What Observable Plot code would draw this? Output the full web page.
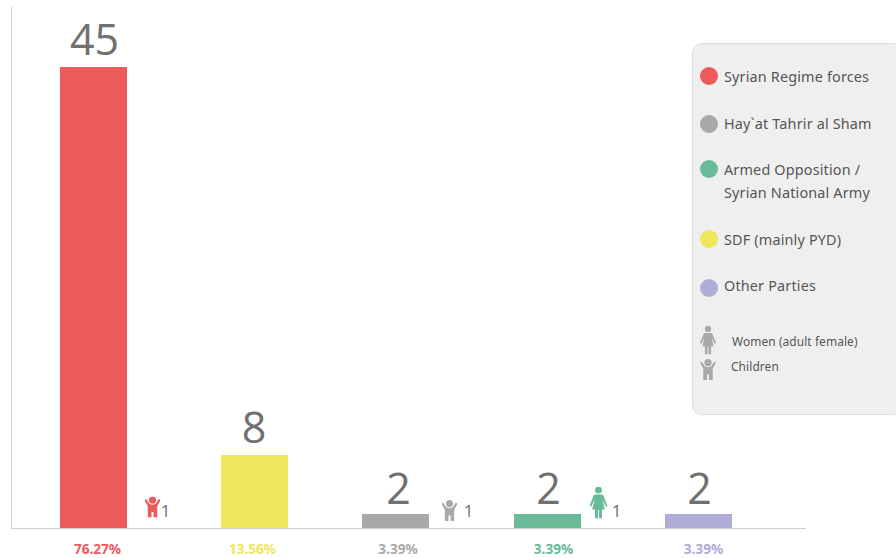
<!DOCTYPE html>
<html><head><meta charset="utf-8">
<script src="https://cdn.jsdelivr.net/npm/d3@7"></script>
<script src="https://cdn.jsdelivr.net/npm/@observablehq/plot@0.6"></script>
<style>
html,body{margin:0;padding:0;background:#fff;overflow:hidden}
#wrap{position:relative;width:896px;height:558px;font-family:"Noto Sans",sans-serif}
#wrap svg.plot,#wrap>svg{display:block;position:absolute;left:0;top:0}
#legend{position:absolute;left:692px;top:43px;width:210px;height:372px;background:#efefef;border:1px dotted #ccc;border-radius:10px;box-sizing:border-box}
.sw{position:absolute;left:7px;width:18px;height:18px;border-radius:50%}
.lb{position:absolute;left:31px;color:#555;font-size:14.4px;line-height:23.5px;white-space:nowrap;letter-spacing:.17px}
.sm{position:absolute;color:#555;font-size:11.9px;line-height:16px;white-space:nowrap;letter-spacing:.1px}
.ic{position:absolute}
</style></head><body><div id="wrap"></div>
<script>
const categories = ["Syrian Regime forces","SDF (mainly PYD)","Hay`at Tahrir al Sham","Armed Opposition / Syrian National Army","Other Parties"];
const counts = [45,8,2,2,2];
const percents = ["76.27%","13.56%","3.39%","3.39%","3.39%"];
const colors = ["#ed5a5c","#efe65c","#a9a9a9","#68bb96","#b0acd8"];
const iconSeries = [0,2,3];
const iconCounts = [1,1,1];
const iconKinds = ["child","child","woman"];
const legendOrder = [0,2,3,1,4];

const childSvg = c => `<svg xmlns="http://www.w3.org/2000/svg" viewBox="0 0 16 21"><circle cx="8" cy="3.6" r="3.6" fill="${c}"/><path fill="${c}" d="M0 3.8 1.700 2.500 4.400 6.800C5.200 7.800 6.400 8.200 8 8.200s2.800-.4 3.600-1.400l2.700-4.300L16 3.800l-3.300 6V14.500V21H9V15.500H7V21H3.300V14.500V9.800Z"/></svg>`;
const womanSvg = c => `<svg xmlns="http://www.w3.org/2000/svg" viewBox="0 0 18 32"><circle cx="9" cy="3.6" r="3.5" fill="${c}"/><path fill="${c}" d="M6 8h6c1 0 1.700.5 2.100 1.500L18 19.500l-1.700.7-3.300-7.200 2.300 10H12.500V32H9.500V23.500h-1V32H5.500V23H2.700L5 13 1.700 20.200 0 19.500 3.900 9.500C4.300 8.500 5 8 6 8Z"/></svg>`;
const uri = s => "data:image/svg+xml;utf8," + encodeURIComponent(s);

const rows = categories.map((name,i)=>({name,slot:i,count:counts[i],pct:percents[i],color:colors[i]}));
const iconRows = iconSeries.map((s,i)=>({slot:s,n:iconCounts[i],kind:iconKinds[i],color:colors[s]}));

// layout nudges (px), relative to each slot's bar centre
const pctDx = [4,-2,2.5,6,5];
const numDx = [1,-0.5,3,1,1];
const numDy = [-13,-13,-11,-11,-11];
const iconDx = [59,54,51];
const iconDy = [-21.5,-18,-26];
const oneDx = [72,73,69];

const chart = Plot.plot({
  width:896,height:558,margin:0,
  x:{type:"linear",domain:[-1,0,1,2,3,4,5],range:[11,93,254,395,547,698,806],axis:null},
  y:{type:"linear",domain:[0,2,8,45,50],range:[528,514,455,67,7],axis:null},
  marks:[
    Plot.ruleX([-1],{y1:0,y2:50,stroke:"#cfcfcf",strokeWidth:1}),
    Plot.ruleX(rows,{x:"slot",y1:0,y2:"count",stroke:"color",strokeWidth:67}),
    Plot.ruleY([0],{x1:-1,x2:5,stroke:"#cfcfcf",strokeWidth:1}),
    ...rows.map((d,i)=>Plot.text([d],{x:"slot",y:"count",text:d=>String(d.count),dx:numDx[i],dy:numDy[i],lineAnchor:"bottom",fontSize:43,fontWeight:400,fontFamily:"Open Sans",fill:"#707070"})),
    ...rows.map((d,i)=>Plot.text([d],{x:"slot",y:0,text:"pct",dx:pctDx[i],dy:21.5,fontSize:13.6,fontWeight:700,fontFamily:"Noto Sans",fill:"color"})),
    ...iconRows.map((d,i)=>Plot.image([d],{x:"slot",y:0,dx:iconDx[i],dy:iconDy[i],width:d.kind==="child"?16:18,height:d.kind==="child"?21:32,preserveAspectRatio:"none",src:d=>uri((d.kind==="child"?childSvg:womanSvg)(d.color))})),
    ...iconRows.map((d,i)=>Plot.text([d],{x:"slot",y:0,text:d=>String(d.n),dx:oneDx[i],dy:-17,fontSize:17,fontWeight:400,fontFamily:"Open Sans",fill:"#707070"}))
  ]
});
const wrap=document.getElementById("wrap");
wrap.appendChild(chart);

const lg=document.createElement("div");lg.id="legend";
const tops=[32,80,125,195,244];
const labelTops=[21,68,113.5,184,230];
const legendNames={3:["Armed Opposition /","Syrian National Army"]};
legendOrder.forEach((k,i)=>{
  const sw=document.createElement("div");sw.className="sw";sw.style.top=(tops[i]-9)+"px";sw.style.background=colors[k];lg.appendChild(sw);
  const lb=document.createElement("div");lb.className="lb";lb.style.top=labelTops[i]+"px";
  lb.innerHTML=(legendNames[k]||[categories[k]]).join("<br>");lg.appendChild(lb);
});
const mk=(cls,txt,l,t)=>{const e=document.createElement("div");e.className=cls;e.textContent=txt;e.style.left=l+"px";e.style.top=t+"px";lg.appendChild(e);};
mk("sm","Women (adult female)",39,289);
mk("sm","Children",38,314);
const ic=(svg,l,t,w,h)=>{const e=document.createElement("img");e.className="ic";e.src=uri(svg);e.style.cssText+=`left:${l}px;top:${t}px;width:${w}px;height:${h}px`;lg.appendChild(e);};
ic(womanSvg("#a9a9a9"),7,281,16,30);
ic(childSvg("#a9a9a9"),7,315,16,21);
wrap.appendChild(lg);
</script></body></html>
